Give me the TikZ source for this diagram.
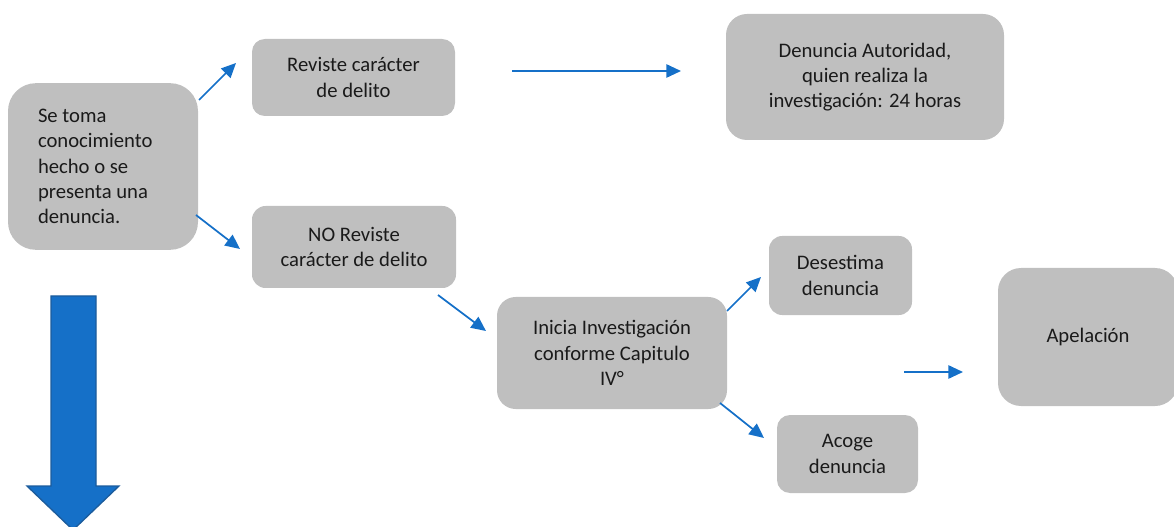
\documentclass[tikz,border=0pt]{standalone}
\usepackage{tikz}
\usetikzlibrary{arrows.meta}
\usepackage{fontspec}
\setmainfont{Carlito}
\usepackage{xcolor}
\definecolor{CajaGris}{HTML}{BFBFBF}
\definecolor{FlechaAzul}{HTML}{1570C8}
\definecolor{FlechaBorde}{HTML}{1C5C9C}
\definecolor{TextoOscuro}{HTML}{1A1A1A}

\tikzset{
  caja/.style={rectangle, fill=CajaGris, text=TextoOscuro, align=center,
    font=\fontsize{15.5pt}{19pt}\selectfont, inner sep=2pt},
  flecha/.style={FlechaAzul, line width=1.3pt, -{Triangle[length=11pt,width=10pt]}}
}

\begin{document}
\begin{tikzpicture}[x=0.75pt, y=-0.75pt]
                \useasboundingbox (0,0) rectangle (1174,527);

                % Boxes
                \node[caja, align=flush left, text width=97.5pt, minimum width=142.5pt, minimum height=125pt, rounded corners=20.9pt] (hecho) at (103,166.5) {Se toma\\conocimiento\\hecho o se\\presenta una\\denuncia.};
                \node[caja, minimum width=152.25pt, minimum height=57.75pt, rounded corners=9.6pt] (reviste) at (353.5,77.5) {Reviste carácter\\de delito};
                \node[caja, minimum width=208.5pt, minimum height=94.5pt, rounded corners=15.75pt] (autoridad) at (865,77) {Denuncia Autoridad,\\quien realiza la\\investigación: 24 horas};
                \node[caja, minimum width=153pt, minimum height=61.5pt, rounded corners=10.25pt] (noreviste) at (354,247) {NO Reviste\\carácter de delito};
                \node[caja, minimum width=172.5pt, minimum height=84pt, rounded corners=14pt] (inicia) at (612,353) {Inicia Investigación\\conforme Capitulo\\IV°};
                \node[caja, minimum width=107.25pt, minimum height=59.25pt, rounded corners=9.9pt] (desestima) at (840.5,275.5) {Desestima\\denuncia};
                \node[caja, minimum width=105.75pt, minimum height=58.5pt, rounded corners=9.75pt] (acoge) at (847.5,454) {Acoge\\denuncia};
                \node[caja, minimum width=135pt, minimum height=103.5pt, rounded corners=17.25pt] (apelacion) at (1088,337) {Apelación};

                % Arrow end points
                \coordinate (a1) at (199,100);  \coordinate (b1) at (236,63);
                \coordinate (a2) at (196,215);  \coordinate (b2) at (240,249);
                \coordinate (a3) at (512,71);   \coordinate (b3) at (681,71);
                \coordinate (a4) at (438,295);  \coordinate (b4) at (486,331);
                \coordinate (a5) at (727,311);  \coordinate (b5) at (761,277);
                \coordinate (a6) at (720,403);  \coordinate (b6) at (764,438);
                \coordinate (a7) at (904,372);  \coordinate (b7) at (963,372);

                % Arrows
                \draw[flecha] (a1) -- (b1);
                \draw[flecha] (a2) -- (b2);
                \draw[flecha] (a3) -- (b3);
                \draw[flecha] (a4) -- (b4);
                \draw[flecha] (a5) -- (b5);
                \draw[flecha] (a6) -- (b6);
                \draw[flecha] (a7) -- (b7);

                % Big arrow down
                \draw[fill=FlechaAzul, draw=FlechaBorde, line width=1pt, line join=miter]
                  (51,296) -- (96,296) -- (96,486) -- (119,486) -- (73,530) -- (27,486) -- (51,486) -- cycle;
            \end{tikzpicture}
\end{document}
